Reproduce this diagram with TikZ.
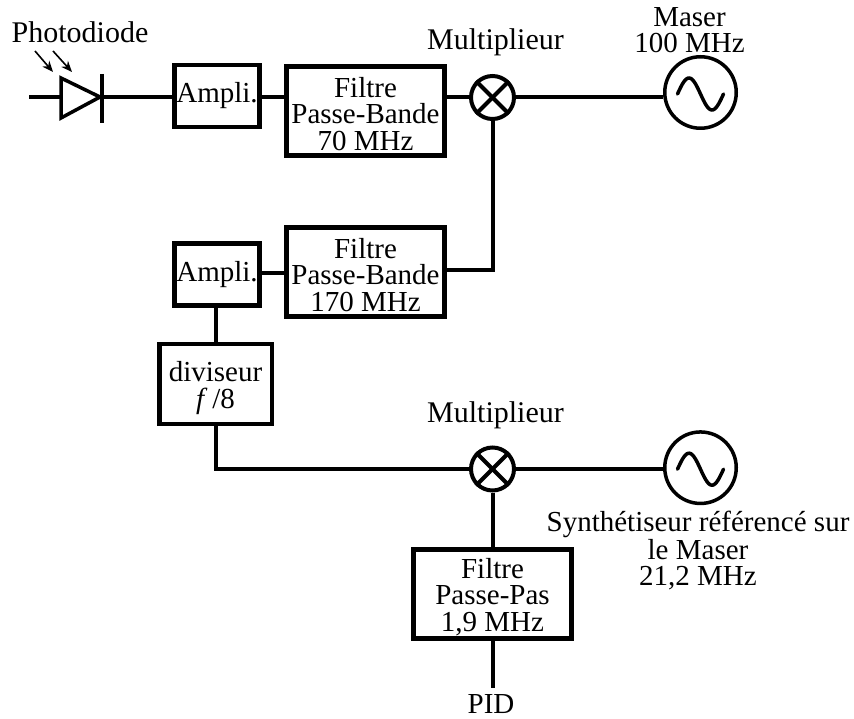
\documentclass[tikz,border=0pt]{standalone}
\usepackage{fontspec}
\setmainfont{Liberation Serif}
\usetikzlibrary{arrows.meta}
\newcommand{\topstrut}[1]{\rule{0pt}{#1}}
\begin{document}
\begin{tikzpicture}[x=1pt,y=-1pt,
  wire/.style={line width=4pt},
  blk/.style={draw,line width=4.5pt,inner sep=0pt,align=center,font=\fontsize{29}{26.5}\selectfont,anchor=center},
  filt/.style={blk,minimum width=158pt,minimum height=89pt},
  amp/.style={blk,minimum width=85pt,minimum height=62pt},
  lbl/.style={inner sep=0pt,align=center,font=\fontsize{29}{26.5}\selectfont},
  wide/.style={inner sep=0pt,anchor=base,font=\fontsize{30}{30}\selectfont},
  mix/.style={circle,draw,line width=4pt,minimum size=43pt,inner sep=0pt},
  osc/.style={circle,draw,line width=3.5pt,minimum size=71.5pt,inner sep=0pt}]
\useasboundingbox (0,0) rectangle (854,719);
% top row
\node[amp] (a1) at (217,96) {Ampli.};
\node[filt] (f1) at (365.5,111) {\topstrut{26pt}Filtre\\Passe-Bande\\70 MHz};
\node[mix] (m1) at (492.5,97.5) {};
\node[osc] (o1) at (700.5,92.5) {};
\node[wide] (tm1) at (495.5,50) {Multiplieur};
\node[lbl] (tm2) at (689.5,30) {Maser\\100 MHz};
\node[wide] (tp) at (80,43) {Photodiode};
% second row
\node[filt] (f2) at (365.5,272) {\topstrut{26pt}Filtre\\Passe-Bande\\170 MHz};
\node[amp] (a2) at (217,274.5) {Ampli.};
\node[blk,minimum width=112.5pt,minimum height=80pt] (d) at (215.5,384) {\topstrut{28pt}diviseur\\\textit{f}\,/8};
% third row
\node[mix] (m2) at (492.5,469) {};
\node[osc] (o2) at (700.5,467.7) {};
\node[wide] (tm3) at (495.5,422) {Multiplieur};
\node[lbl] (ts) at (698,550.5) {Synthétiseur référencé sur\\[1.5pt]le Maser\\21,2 MHz};
\node[filt] (f3) at (492.5,594) {\topstrut{26pt}Filtre\\Passe-Pas\\1,9 MHz};
\node[lbl] (pid) at (491,704) {PID};
% diode
\coordinate (w0) at (29,97);
\coordinate (dk) at (102,97);
\coordinate (dtop) at (102,74);
\coordinate (dbot) at (102,123);
\draw[line width=3.5pt,miter limit=10] (61,78) -- (100,97) -- (61,118) -- cycle;
\draw[wire] (dtop) -- (dbot);
\draw[wire] (w0) -- (61,97);
\draw[wire] (dk) -- (dk-|a1.west);
\draw[-{Stealth[length=11pt,width=9pt]},line width=1.6pt] (35,51) -- (53,72);
\draw[-{Stealth[length=11pt,width=9pt]},line width=1.6pt] (53,51) -- (72,72);
% connectors
\draw[wire] (a1.east|-dk) -- (f1.west|-dk);
\draw[wire] (f1.east|-dk) -- (m1.west|-dk);
\draw[wire] (m1.east) -- (o1.west|-m1.east);
\coordinate (c2) at (446,270);
\coordinate (c3) at (270,273);
\draw[wire,line join=miter] (m1.south) -- (m1.south|-c2) -- (f2.east|-c2);
\draw[wire] (a2.east|-c3) -- (f2.west|-c3);
\draw[wire] (a2.south-|d.north) -- (d.north);
\draw[wire,line join=miter] (d.south) -- (d.south|-m2.west) -- (m2.west);
\draw[wire] (m2.east) -- (o2.west|-m2.east);
\draw[wire] (m2.south) -- (f3.north);
\coordinate (pidw) at (492.5,688);
\draw[wire] (f3.south) -- (pidw);
% mixer crosses
\foreach \m in {m1,m2}{
  \draw[wire] (\m.45) -- (\m.225);
  \draw[wire] (\m.135) -- (\m.315);
}
% sine
\foreach \o in {o1,o2}{
  \begin{scope}[shift={(\o.center)}]
  \draw[line width=3.5pt,line cap=round] plot[domain=-23:23,samples=40,smooth] (\x,{1.5+16*sin(\x*180/23)});
  \end{scope}
}
\end{tikzpicture}
\end{document}
